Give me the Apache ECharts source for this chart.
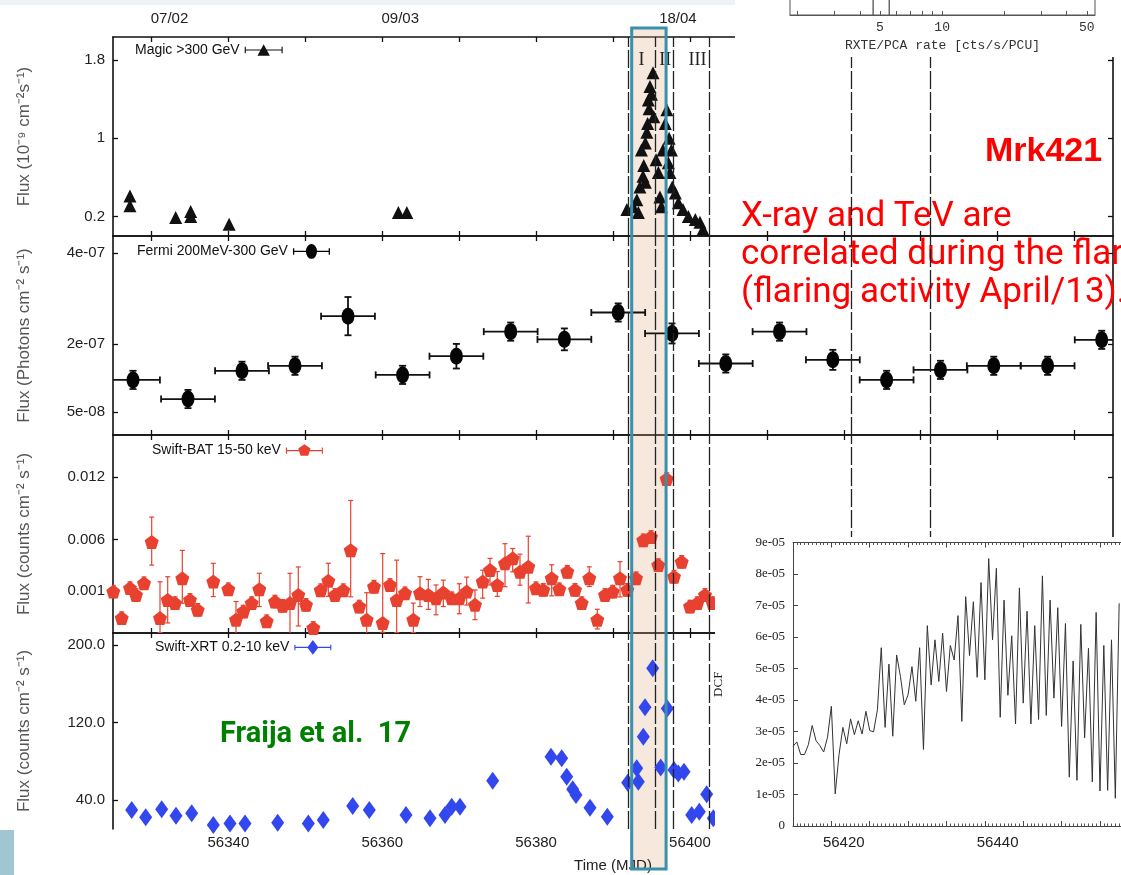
<!DOCTYPE html>
<html><head><meta charset="utf-8">
<script src="https://cdn.jsdelivr.net/npm/echarts@6/dist/echarts.min.js"></script>
<style>html,body{margin:0;padding:0;background:#fff}#c{width:1121px;height:875px}</style>
</head><body><div id="c"></div>
<script>
// ---------------- DATA ----------------
const xTickMJD = [56330,56340,56350,56360,56370,56380,56390,56400,56410,56420,56430,56440,56450];
const xLabelMJD = [56340,56360,56380,56400,56420,56440];
const topDateMJD = [56330,56360,56400];
const topDateText = ['07/02','09/03','18/04'];

const magicTicks = [0.2,1,1.8];
const magicTickLabels = ['0.2','1','1.8'];
const fermiTicks = [5e-8,2e-7,4e-7];
const fermiTickLabels = ['5e-08','2e-07','4e-07'];
const batTicks = [0.001,0.006,0.012];
const batTickLabels = ['0.001','0.006','0.012'];
const xrtTicks = [40,120,200];
const xrtTickLabels = ['40.0','120.0','200.0'];

// MAGIC >300 GeV (10^-9 cm^-2 s^-1)
const magicMJD = [56327.2,56327.2,56333.15,56335.1,56335.1,56340.1,56362.1,56363.2,
  56391.8,56392.6,56393.1,56393.3,56393.5,56393.7,56393.9,56394.0,56394.2,56394.2,56394.4,56394.5,56394.6,56394.7,56394.8,56395.0,56395.2,56395.3,
  56395.6,56395.9,56396.1,56396.3,56396.5,56396.8,56397.0,56397.2,56397.3,56397.4,56397.6,56397.7,56398.1,56398.5,56399.1,56399.8,56400.7,56401.3,56401.7];
const magicFlux = [0.41,0.31,0.19,0.25,0.20,0.12,0.24,0.24,
  0.27,0.30,0.37,0.24,0.50,0.88,0.61,0.72,0.55,0.95,1.06,1.15,1.39,1.30,1.53,1.45,1.67,1.22,
  0.78,0.65,0.40,0.30,0.88,1.15,1.29,0.75,1.00,0.65,0.88,0.50,0.44,0.34,0.27,0.20,0.17,0.14,0.07];

// Fermi 200MeV-300GeV (photons cm^-2 s^-1), weekly bins
const fermiBinDays = 7;
const fermiMJD = [56327.6,56334.75,56341.77,56348.66,56355.55,56362.65,56369.64,56376.7,56383.68,56390.68,
  56397.67,56404.66,56411.65,56418.58,56425.57,56432.57,56439.5,56446.5,56453.53];
const fermiFlux = [1.21e-7,0.79e-7,1.41e-7,1.52e-7,2.61e-7,1.32e-7,1.73e-7,2.27e-7,2.10e-7,2.69e-7,
  2.23e-7,1.57e-7,2.27e-7,1.65e-7,1.21e-7,1.43e-7,1.52e-7,1.52e-7,2.09e-7];
const fermiErr = [0.2e-7,0.2e-7,0.2e-7,0.2e-7,0.42e-7,0.2e-7,0.27e-7,0.2e-7,0.24e-7,0.2e-7,
  0.22e-7,0.2e-7,0.2e-7,0.22e-7,0.2e-7,0.2e-7,0.2e-7,0.2e-7,0.2e-7];

// Swift-BAT 15-50 keV (counts cm^-2 s^-1)
const batMJD = [56325.04,56326.13,56327.21,56327.99,56329.03,56330.03,56331.11,56332.11,56333.06,56334.01,
  56335.01,56336.01,56338.04,56339.99,56340.99,56341.94,56343.03,56344.02,56344.98,56346.06,
  56347.06,56348.01,56349.09,56350.09,56351.04,56352.0,56352.99,56353.86,56354.94,56355.9,
  56357.02,56357.98,56358.93,56360.06,56361.01,56361.88,56362.96,56364.04,56364.91,56365.99,
  56366.99,56367.94,56369.03,56370.02,56370.98,56372.06,56373.06,56374.01,56374.96,56375.96,
  56376.96,56377.91,56378.99,56379.99,56380.94,56382.03,56383.02,56384.06,56385.06,56385.93,
  56386.92,56387.96,56388.96,56389.96,56390.91,56391.86,56392.99,56393.94,56394.94,56395.89,
  56396.98,56397.93,56398.93,56400.01,56400.96,56401.96,56402.96];
const batFlux = [0.00096,-0.0016,0.0013,0.00064,0.00177,0.00576,-0.0016,0.00016,-0.00015,0.00224,
  0.00016,-0.0008,0.00193,0.00119,-0.00175,-0.00096,-0.00015,0.00119,-0.0019,0.0,
  -0.00041,-0.00015,0.00064,-0.00032,-0.00255,0.0011,0.002,0.00064,0.0011,0.00496,
  -0.00048,-0.00175,0.00144,-0.00207,0.0016,0.00016,0.0008,-0.00175,0.0008,0.00064,
  0.00032,0.00087,0.00032,0.00032,0.00096,-0.00032,0.00193,0.00304,0.0016,0.00369,
  0.00417,0.00288,0.00336,0.00129,0.00113,0.00225,0.00119,0.00288,0.00113,-0.00015,
  0.00225,-0.00175,0.00064,0.00096,0.00225,0.00113,0.00225,0.00592,0.00624,0.00352,
  0.01184,0.0024,0.00384,-0.00048,-0.00015,0.00064,-0.00015];
const batErrHi = [0.0006,0.0006,0.0006,0.0006,0.0006,0.0024,0.0035,0.00224,0.0006,0.0027,
  0.0006,0.0006,0.00176,0.0006,0.00175,0.0006,0.0006,0.00154,0.0006,0.0006,
  0.0006,0.00288,0.0027,0.0006,0.0006,0.0006,0.0017,0.0006,0.0006,0.0048,
  0.0006,0.0026,0.0006,0.0067,0.0006,0.00384,0.0006,0.0016,0.0016,0.0015,
  0.00128,0.0012,0.0006,0.0014,0.0014,0.00144,0.0011,0.00113,0.0013,0.0019,
  0.00095,0.0017,0.00295,0.0006,0.0006,0.0013,0.0006,0.0006,0.0006,0.0006,
  0.0011,0.001,0.0006,0.0006,0.0016,0.0006,0.0006,0.0006,0.0006,0.0006,
  0.0006,0.0006,0.0006,0.0006,0.0006,0.0006,0.0006];
const batErrLo = [0.0006,0.0006,0.0006,0.0006,0.0006,0.00224,0.0014,0.00223,0.0006,0.0024,
  0.0006,0.0006,0.00145,0.0006,0.0016,0.0006,0.0006,0.00167,0.0006,0.0006,
  0.0006,0.0032,0.003,0.0006,0.0006,0.0006,0.0015,0.0006,0.0006,0.0045,
  0.0006,0.0016,0.0006,0.0009,0.0006,0.00316,0.0006,0.00125,0.00128,0.0014,
  0.0016,0.00135,0.0006,0.0015,0.0013,0.00143,0.0016,0.00144,0.0011,0.00225,
  0.0013,0.0013,0.0035,0.0006,0.0006,0.0017,0.0006,0.0006,0.0006,0.0006,
  0.0008,0.0009,0.0006,0.0006,0.0018,0.0006,0.0006,0.0006,0.0006,0.0006,
  0.0006,0.0006,0.0006,0.0006,0.0006,0.0006,0.0006];

// Swift-XRT 0.2-10 keV
const xrtMJD = [56327.43,56329.25,56331.33,56333.19,56335.23,56338.04,56340.21,56342.16,56346.41,56350.39,
  56352.34,56356.16,56358.32,56363.09,56366.21,56368.16,56369.03,56370.11,56374.36,56381.94,
  56383.33,56383.98,56384.76,56385.19,56387.01,56389.26,56391.91,56393.08,56393.29,56393.94,
  56394.16,56395.16,56396.2,56397.06,56397.93,56398.49,56399.23,56400.23,56401.22,56402.18,56403.04];
const xrtFlux = [29.7,22.1,30.4,23.8,26.3,14.2,15.9,15.9,16.6,15.9,
  19.4,33.8,29.7,24.5,21.1,24.5,33.1,33.1,59.9,84.7,
  83.0,64.0,51.0,45.2,32.1,22.8,57.9,72.7,58.9,105.3,
  135.7,175.9,73.7,134.6,71.0,67.5,69.2,24.5,27.9,45.9,21.1];

// DCF inset
const dcfValue = [2.53e-5,2.67e-5,2.27e-5,2.27e-5,2.58e-5,3.19e-5,2.71e-5,2.55e-5,2.35e-5,2.82e-5,
  3.80e-5,1.02e-5,2.27e-5,3.13e-5,2.61e-5,3.40e-5,2.90e-5,3.34e-5,2.92e-5,3.64e-5,
  3.03e-5,2.99e-5,3.69e-5,5.66e-5,3.13e-5,5.14e-5,2.85e-5,5.43e-5,4.75e-5,3.85e-5,
  4.17e-5,5.06e-5,3.96e-5,5.66e-5,2.43e-5,6.36e-5,4.48e-5,5.91e-5,4.59e-5,6.12e-5,
  4.27e-5,5.73e-5,5.27e-5,6.68e-5,3.32e-5,7.28e-5,5.41e-5,7.12e-5,4.72e-5,7.73e-5,
  4.64e-5,8.49e-5,5.91e-5,8.18e-5,3.45e-5,7.17e-5,4.15e-5,6.04e-5,3.24e-5,7.56e-5,
  3.90e-5,6.82e-5,3.24e-5,6.36e-5,3.38e-5,7.94e-5,3.51e-5,7.17e-5,4.06e-5,6.93e-5,
  3.16e-5,6.43e-5,1.55e-5,5.24e-5,1.45e-5,6.40e-5,2.80e-5,5.64e-5,1.40e-5,6.78e-5,
  1.11e-5,5.73e-5,1.13e-5,5.91e-5,0.88e-5,7.07e-5];

// Annotation markers (MJD)
const guideMJD = [56392.0,56395.55,56397.85,56402.5,56421.0,56431.3];
const flareBand = [56392.43,56396.9];
const periodLabels = ['I','II','III'];
const periodMJD = [56393.7,56396.8,56401.0];

// RXTE axis strip
const rxteTicks = [2,3,4,5,6,7,8,9,10,20,30,40,50];
const rxteLabels = [5,10,50];
const rxteMarks = [4.64,5.55];

// ---------------- CHART ----------------
const FONT = '"Liberation Sans",Arial,sans-serif';
const SERIF = '"Liberation Serif","DejaVu Serif",serif';
const MONO = '"Liberation Mono","DejaVu Sans Mono",monospace';
const AX = '#111';
const X_MIN = 56325, X_MAX = 56455;

function fmtFrom(ticks, labels) {
  return v => { const i = ticks.findIndex(t => Math.abs(t - v) <= Math.abs(t) * 1e-6 + 1e-15); return i >= 0 ? labels[i] : ''; };
}

const panels = [
  {top: 37, height: 199, min: 0, max: 2.035, ticks: magicTicks, labels: magicTickLabels, name: 'Flux (10⁻⁹ cm⁻²s⁻¹)'},
  {top: 236, height: 199, min: 0, max: 4.37e-7, ticks: fermiTicks, labels: fermiTickLabels, name: 'Flux (Photons cm⁻² s⁻¹)'},
  {top: 435, height: 198, min: -0.00304, max: 0.01609, ticks: batTicks, labels: batTickLabels, name: 'Flux (counts cm⁻² s⁻¹)'},
  {top: 633, height: 196, min: 10.1, max: 212.4, ticks: xrtTicks, labels: xrtTickLabels, name: 'Flux (counts cm⁻² s⁻¹)'}
];

const grids = [], xAxes = [], yAxes = [];
panels.forEach((p, i) => {
  grids.push({left: 113, right: 8, top: p.top, height: p.height, containLabel: false, outerBoundsMode: 'none'});
  const bx = {type: 'value', gridIndex: i, min: X_MIN, max: X_MAX, splitLine: {show: false},
    axisLine: {show: true, onZero: false, lineStyle: {color: AX, width: 1.6}},
    axisTick: {show: true, inside: true, length: 5, customValues: xTickMJD, lineStyle: {color: AX, width: 1.3}},
    axisLabel: {show: false}};
  xAxes.push(Object.assign({}, bx, {position: 'bottom'}));
  xAxes.push(Object.assign({}, bx, {position: 'top'}));
  const by = {type: 'value', gridIndex: i, min: p.min, max: p.max, splitLine: {show: false},
    axisLine: {show: true, onZero: false, lineStyle: {color: AX, width: 1.6}},
    axisTick: {show: true, inside: true, length: 5, customValues: p.ticks, lineStyle: {color: AX, width: 1.3}}};
  yAxes.push(Object.assign({}, by, {position: 'left',
    axisLabel: {show: true, customValues: p.ticks, formatter: fmtFrom(p.ticks, p.labels), margin: 8,
      fontFamily: FONT, fontSize: 15, color: '#222'},
    name: p.name, nameLocation: 'middle', nameGap: 80, nameRotate: 90,
    nameTextStyle: {fontFamily: FONT, fontSize: 17, color: '#555'}}));
  yAxes.push(Object.assign({}, by, {position: 'right', axisLabel: {show: false}}));
});
// top date labels
xAxes[1].axisLabel = {show: true, customValues: topDateMJD, margin: 11,
  formatter: v => { const i = topDateMJD.indexOf(v); return '{d' + i + '|' + topDateText[i] + '}'; },
  rich: {
    d0: {padding: [0,0,0,36], fontFamily: FONT, fontSize: 15, color: '#222'},
    d1: {padding: [0,0,0,36], fontFamily: FONT, fontSize: 15, color: '#222'},
    d2: {padding: [0,24,0,0], fontFamily: FONT, fontSize: 15, color: '#222'}}};
// bottom MJD labels (XRT panel, no bottom frame line since cropped)
xAxes[6].axisLine = {show: false, onZero: false};
xAxes[6].axisTick = {show: false};
xAxes[6].axisLabel = {show: true, customValues: xLabelMJD, margin: 6, formatter: v => String(v),
  fontFamily: FONT, fontSize: 15, color: '#222'};
xAxes[6].name = 'Time (MJD)';
xAxes[6].nameLocation = 'middle';
xAxes[6].nameGap = 29;
xAxes[6].nameTextStyle = {fontFamily: FONT, fontSize: 15, color: '#222'};
xAxes[6].z = 110;

// DCF inset grid (index 4)
grids.push({left: 793, top: 542.5, width: 330, height: 283.5, containLabel: false, outerBoundsMode: 'none', z: 110});
const insetX = {type: 'value', gridIndex: 4, min: 0, max: 86, interval: 10, splitLine: {show: false}, z: 110,
  axisLine: {show: true, onZero: false, lineStyle: {color: '#444', width: 1}},
  axisTick: {show: true, inside: true, length: 5, lineStyle: {color: '#444'}},
  minorTick: {show: true, splitNumber: 10, length: 2.5, lineStyle: {color: '#555'}},
  axisLabel: {show: false}};
xAxes.push(Object.assign({}, insetX, {position: 'bottom'}));
xAxes.push(Object.assign({}, insetX, {position: 'top'}));
yAxes.push({type: 'value', gridIndex: 4, min: 0, max: 9e-5, interval: 1e-5, position: 'left', z: 110,
  splitLine: {show: false},
  axisLine: {show: true, onZero: false, lineStyle: {color: '#444', width: 1}},
  axisTick: {show: true, inside: true, length: 5, lineStyle: {color: '#444'}},
  axisLabel: {show: true, margin: 8, fontFamily: SERIF, fontSize: 13, color: '#222',
    formatter: v => v === 0 ? '0' : v.toExponential(0).replace(/e-(\d)$/, 'e-0$1')},
  name: 'DCF', nameLocation: 'middle', nameGap: 68, nameRotate: 90,
  nameTextStyle: {fontFamily: SERIF, fontSize: 13, color: '#222'}});

// RXTE strip grid (index 5)
grids.push({left: 790, top: -20, width: 305, height: 35, containLabel: false, outerBoundsMode: 'none',
  show: true, borderColor: '#555', borderWidth: 1, backgroundColor: 'transparent', z: 110});
xAxes.push({type: 'log', gridIndex: 5, min: 1.84, max: 54.8, position: 'bottom', z: 110, splitLine: {show: false},
  axisLine: {show: true, onZero: false, lineStyle: {color: '#555', width: 1}},
  axisTick: {show: true, inside: true, length: 4, customValues: rxteTicks, lineStyle: {color: '#555'}},
  axisLabel: {show: true, customValues: rxteLabels, formatter: v => String(Math.round(v)), margin: 6,
    fontFamily: MONO, fontSize: 13, color: '#333'},
  name: 'RXTE/PCA rate [cts/s/PCU]', nameLocation: 'middle', nameGap: 24,
  nameTextStyle: {fontFamily: MONO, fontSize: 13, color: '#333'}});
yAxes.push({type: 'value', gridIndex: 5, min: 0, max: 1, show: false});

// error bar renderer
function errRender(color, cap, lw) {
  return function (params, api) {
    const x = api.value(0), y = api.value(1), xl = api.value(2), xh = api.value(3), yl = api.value(4), yh = api.value(5);
    const st = {stroke: color, lineWidth: lw};
    const ch = [];
    if (xl || xh) {
      const a = api.coord([x - xl, y]), b = api.coord([x + xh, y]);
      ch.push({type: 'line', shape: {x1: a[0], y1: a[1], x2: b[0], y2: b[1]}, style: st});
      ch.push({type: 'line', shape: {x1: a[0], y1: a[1] - cap, x2: a[0], y2: a[1] + cap}, style: st});
      ch.push({type: 'line', shape: {x1: b[0], y1: b[1] - cap, x2: b[0], y2: b[1] + cap}, style: st});
    }
    if (yl || yh) {
      const a = api.coord([x, y - yl]), b = api.coord([x, y + yh]);
      ch.push({type: 'line', shape: {x1: a[0], y1: a[1], x2: b[0], y2: b[1]}, style: st});
      ch.push({type: 'line', shape: {x1: a[0] - cap, y1: a[1], x2: a[0] + cap, y2: a[1]}, style: st});
      ch.push({type: 'line', shape: {x1: b[0] - cap, y1: b[1], x2: b[0] + cap, y2: b[1]}, style: st});
    }
    return {type: 'group', children: ch};
  };
}
function guides() {
  return {silent: true, symbol: ['none', 'none'], label: {show: false}, animation: false,
    lineStyle: {color: '#222', width: 1.3, type: [18, 3], opacity: 1},
    data: guideMJD.map(v => ({xAxis: v}))};
}

const PENT = 'path://M0,-10L9.51,-3.09L5.88,8.09L-5.88,8.09L-9.51,-3.09Z';
const BAT_RED = '#e8412f', XRT_BLUE = '#3347ee';

const series = [
  {type: 'scatter', name: 'Magic >300 GeV', xAxisIndex: 0, yAxisIndex: 0, symbol: 'triangle', symbolSize: [13, 13],
    itemStyle: {color: '#111', opacity: 1}, data: magicMJD.map((m, i) => [m, magicFlux[i]]), markLine: guides(), z: 3},
  {type: 'custom', xAxisIndex: 0, yAxisIndex: 0, silent: true, z: 5,
    data: periodMJD.map(m => [m, 1.8]), encode: {x: 0, y: 1},
    renderItem: (params, api) => {
      const p = api.coord([api.value(0), api.value(1)]);
      return {type: 'text', x: p[0], y: p[1], style: {text: periodLabels[params.dataIndex], fontFamily: SERIF, fontSize: 18,
        fill: '#222', align: 'center', verticalAlign: 'middle'}};
    }},
  {type: 'custom', xAxisIndex: 2, yAxisIndex: 2, clip: true, silent: true, z: 3, encode: {x: 0, y: 1},
    data: fermiMJD.map((m, i) => [m, fermiFlux[i], fermiBinDays / 2, fermiBinDays / 2, fermiErr[i], fermiErr[i]]),
    renderItem: errRender('#111', 3.5, 1.8)},
  {type: 'scatter', name: 'Fermi 200MeV-300 GeV', xAxisIndex: 2, yAxisIndex: 2, symbol: 'circle', symbolSize: [13, 17],
    itemStyle: {color: '#050505', opacity: 1}, data: fermiMJD.map((m, i) => [m, fermiFlux[i]]), markLine: guides(), z: 4},
  {type: 'custom', xAxisIndex: 4, yAxisIndex: 4, clip: true, silent: true, z: 3, encode: {x: 0, y: 1},
    data: batMJD.map((m, i) => [m, batFlux[i], 0, 0, batErrLo[i], batErrHi[i]]),
    renderItem: errRender(BAT_RED, 2.5, 1.2)},
  {type: 'scatter', name: 'Swift-BAT 15-50 keV', xAxisIndex: 4, yAxisIndex: 4, symbol: PENT, symbolSize: [14, 14],
    itemStyle: {color: BAT_RED, opacity: 1}, data: batMJD.map((m, i) => [m, batFlux[i]]), markLine: guides(), z: 4},
  {type: 'scatter', name: 'Swift-XRT 0.2-10 keV', xAxisIndex: 6, yAxisIndex: 6, symbol: 'diamond', symbolSize: [13, 18],
    itemStyle: {color: XRT_BLUE, opacity: 1}, data: xrtMJD.map((m, i) => [m, xrtFlux[i]]), markLine: guides(), z: 4},
  {type: 'line', xAxisIndex: 8, yAxisIndex: 8, showSymbol: false, symbol: 'none', silent: true, z: 115,
    lineStyle: {color: '#333', width: 1}, data: dcfValue.map((v, i) => [i, v])},
  {type: 'custom', xAxisIndex: 10, yAxisIndex: 9, silent: true, z: 115, encode: {x: 0},
    data: rxteMarks.map(v => [v]),
    renderItem: (params, api) => {
      const a = api.coord([api.value(0), 0]), b = api.coord([api.value(0), 1]);
      return {type: 'line', shape: {x1: a[0], y1: a[1], x2: b[0], y2: b[1]}, style: {stroke: '#444', lineWidth: 1.2}};
    }}
];

const ICON_MAGIC = 'path://M0,5.4H40V6.6H0Z M0,2.5H1.2V9.5H0Z M38.8,2.5H40V9.5H38.8Z M20,0L26.5,12H13.5Z';
const ICON_FERMI = 'path://M0,7.3H40V8.7H0Z M0,4.5H1.4V11.5H0Z M38.6,4.5H40V11.5H38.6Z M20,0A6,8 0 1 1 20,16A6,8 0 1 1 20,0Z';
const ICON_BAT = 'path://M0,6.4H40V7.6H0Z M0,3.5H1.2V10.5H0Z M38.8,3.5H40V10.5H38.8Z M20,0L26.66,4.84L24.11,12.66L15.89,12.66L13.34,4.84Z';
const ICON_XRT = 'path://M0,7.4H40V8.6H0Z M0,5H1.2V11H0Z M38.8,5H40V11H38.8Z M20,0L26,8L20,16L14,8Z';
function lg(name, left, top, icon, w, h) {
  return {data: [name], left, top, align: 'right', icon, itemWidth: w, itemHeight: h, padding: 0, itemGap: 0,
    selectedMode: false, itemStyle: {opacity: 1}, textStyle: {fontFamily: FONT, fontSize: 14, color: '#111'}};
}

const chart = echarts.init(document.getElementById('c'), null, {renderer: 'canvas', width: 1121, height: 875});
chart.setOption({
  animation: false,
  backgroundColor: '#fff',
  textStyle: {fontFamily: FONT},
  grid: grids, xAxis: xAxes, yAxis: yAxes, series: series,
  legend: [
    lg('Magic >300 GeV', 135, 43, ICON_MAGIC, 38, 12),
    lg('Fermi 200MeV-300 GeV', 137, 244, ICON_FERMI, 37, 16),
    lg('Swift-BAT 15-50 keV', 152, 443, ICON_BAT, 37, 13),
    lg('Swift-XRT 0.2-10 keV', 155, 640, ICON_XRT, 37, 16)
  ]
});

const bx0 = chart.convertToPixel({xAxisIndex: 0}, flareBand[0]);
const bx1 = chart.convertToPixel({xAxisIndex: 0}, flareBand[1]);
chart.setOption({
  graphic: [
    {type: 'rect', id: 'strip', z: 100, silent: true, shape: {x: 0, y: 0, width: 735, height: 5}, style: {fill: '#eef2f5'}},
    {type: 'rect', id: 'tealsq', z: 100, silent: true, shape: {x: 0, y: 830, width: 14, height: 45}, style: {fill: '#a0c6d2'}},
    {type: 'rect', id: 'rxtebg', z: 100, silent: true, shape: {x: 735, y: 0, width: 386, height: 57}, style: {fill: '#fff'}},
    {type: 'rect', id: 'insetbg', z: 100, silent: true, shape: {x: 715, y: 537, width: 406, height: 338}, style: {fill: '#fff'}},
    {type: 'rect', id: 'bandfill', z: 1, silent: true, shape: {x: bx0, y: 28, width: bx1 - bx0, height: 841},
      style: {fill: 'rgba(226,178,140,0.30)'}},
    {type: 'rect', id: 'bandline', z: 120, silent: true, shape: {x: bx0, y: 28, width: bx1 - bx0, height: 841},
      style: {fill: 'none', stroke: '#3a8fab', lineWidth: 3}},
    {type: 'text', id: 'mrk', z: 1, silent: true, x: 985, y: 152,
      style: {text: 'Mrk421', fontFamily: FONT, fontWeight: 'bold', fontSize: 34,
        fill: '#ff0000', align: 'left', verticalAlign: 'middle'}},
    {type: 'text', id: 'r1', z: 1, silent: true, x: 741, y: 217,
      style: {text: 'X-ray and TeV are', fontFamily: 'Roboto', fontSize: 35, fill: '#ff0000', align: 'left', verticalAlign: 'middle'}},
    {type: 'text', id: 'r2', z: 1, silent: true, x: 741, y: 255,
      style: {text: 'correlated during the flare', fontFamily: 'Roboto', fontSize: 35, fill: '#ff0000', align: 'left', verticalAlign: 'middle'}},
    {type: 'text', id: 'r3', z: 1, silent: true, x: 741, y: 293,
      style: {text: '(flaring activity April/13).', fontFamily: 'Roboto', fontSize: 35, fill: '#ff0000', align: 'left', verticalAlign: 'middle'}},
    {type: 'text', id: 'fraija', z: 1, silent: true, x: 220, y: 735,
      style: {text: 'Fraija et al.  17', fontFamily: 'Roboto', fontWeight: 'bold', fontSize: 29, fill: '#008000', align: 'left', verticalAlign: 'middle'}}
  ]
});
</script>
</body></html>
